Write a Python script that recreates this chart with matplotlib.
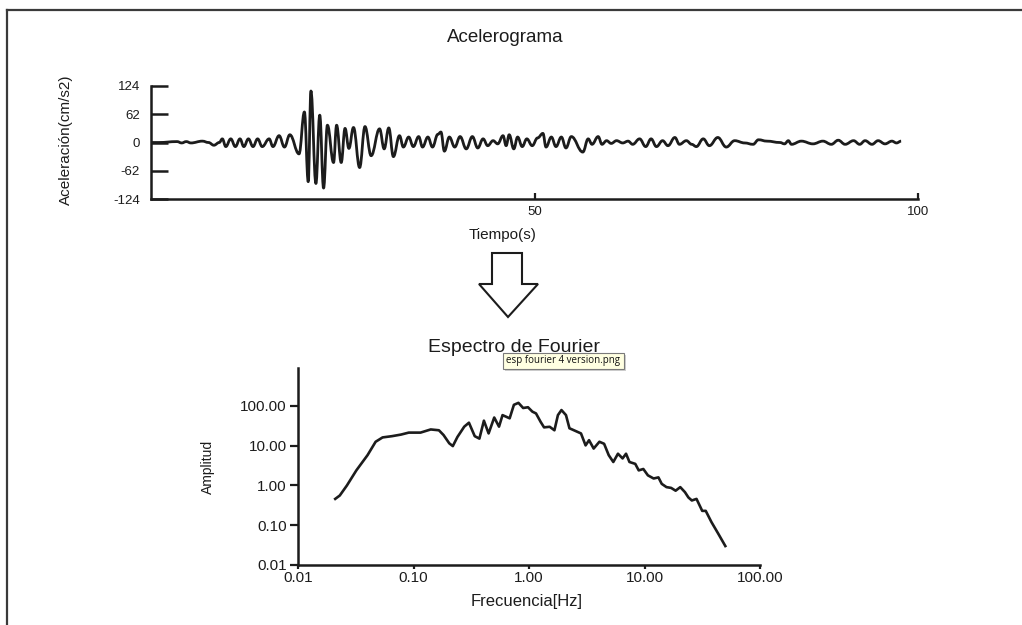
import matplotlib
matplotlib.use("Agg")
import matplotlib.pyplot as plt
from matplotlib.lines import Line2D
from matplotlib.patches import Polygon, Rectangle, PathPatch
from matplotlib.path import Path
from matplotlib.ticker import NullLocator, FixedLocator, FixedFormatter

plt.rcParams['font.family'] = ['Liberation Sans', 'DejaVu Sans']

# acelerograma: extremos (s, cm/s2)
acc_t = [0.0, 1.0, 3.4, 4.0, 4.6, 5.2, 6.7, 7.5, 8.2, 8.9, 9.3, 9.75, 10.4, 11.0,
         11.6, 12.1, 12.7, 13.3, 13.9, 14.5, 15.4, 15.9, 16.7, 17.4, 18.1, 19.3,
         20.0, 20.5, 20.85, 21.5, 22.0, 22.5, 23.0, 23.8, 24.2, 24.8, 25.3, 25.8,
         26.4, 27.2, 27.9, 28.7, 29.8, 30.4, 31.0, 31.6, 32.4, 32.9, 33.6, 34.2,
         34.9, 35.4, 36.1, 36.7, 37.4, 37.8, 38.25, 38.9, 39.6, 40.3, 41.1, 41.9,
         42.6, 43.3, 43.9, 44.6, 45.2, 45.9, 46.3, 46.7, 47.3, 47.8, 48.4, 49.0,
         49.7, 50.4, 51.1, 51.5, 52.2, 52.8, 53.5, 54.1, 54.8, 56.3, 57.0, 57.5,
         58.3, 58.8, 59.4, 60.0, 60.7, 61.5, 62.2, 62.8, 63.7, 64.5, 65.2, 65.9,
         66.7, 67.4, 68.3, 68.9, 69.8, 70.5, 71.1, 72.0, 72.8, 73.9, 75.0, 76.1,
         77.4, 78.5, 79.2, 80.3, 82.0, 82.6, 83.1, 83.5, 84.8, 86.3, 87.6, 88.7,
         89.6, 90.5, 91.6, 92.4, 93.1, 94.0, 94.8, 95.7, 96.6, 97.2, 97.8]
acc_a = [0, 0, 2, -1, 2, -1, 3, 0, -6, 0, 8, -9, 8, -9,
         8, -9, 8, -9, 8, -9, 8, -9, 15, -10, 17, -25,
         67, -86, 113, -90, 60, -100, 38, -44, 38, -44, 31, -13,
         33, -55, 35, -29, 30, -14, 32, -31, 15, -10, 12, -9,
         13, -10, 12, -10, 18, 23, -19, 12, -10, 13, -14, 13,
         -12, 8, -7, 4, -3, 15, -7, 17, -14, 12, -9, 8,
         -7, 10, 20, -10, 12, -9, 12, -12, 13, -21, 8, -4,
         13, -4, 4, -2, 4, -1, 3, -4, 8, -9, 8, -9,
         4, -7, 11, -4, 4, -4, -9, 8, -7, 11, -10, 4,
         -1, -4, 6, 3, 0, -3, 4, -4, 3, -3, 3, -4,
         5, -4, 4, -4, 4, -4, 4, -3, 3, -1, 3]

# espectro de Fourier (Hz, amplitud)
freq = [0.021, 0.023, 0.0265, 0.032, 0.040, 0.047, 0.054, 0.065, 0.078, 0.091,
        0.115, 0.141, 0.166, 0.182, 0.204, 0.219, 0.240, 0.275, 0.302, 0.339,
        0.372, 0.407, 0.447, 0.50, 0.55, 0.59, 0.68, 0.74, 0.81, 0.89, 0.98,
        1.07, 1.15, 1.26, 1.35, 1.51, 1.66, 1.78, 1.91, 2.09, 2.24, 2.45, 2.82,
        3.09, 3.31, 3.63, 4.07, 4.47, 4.90, 5.37, 5.89, 6.46, 6.92, 7.41, 8.32,
        8.91, 9.77, 10.7, 12.0, 13.2, 14.1, 15.5, 17.0, 18.6, 20.4, 22.4, 24.0,
        25.7, 28.2, 31.6, 33.9, 38.0, 43.7, 50.1]
amp = [0.46, 0.56, 1.0, 2.4, 5.8, 12.6, 16.2, 17.4, 19.1, 21.4,
       21.4, 25.7, 24.5, 18.6, 11.5, 9.8, 16.6, 30.2, 38.0, 17.4,
       15.1, 42.7, 20.4, 51.3, 30.2, 58.9, 49.0, 107, 120, 89, 93,
       72, 65, 40, 29, 30, 24.5, 59, 79, 59, 27.5, 24.5, 20.4,
       10.2, 13.8, 8.5, 12.6, 11.2, 5.8, 3.9, 6.3, 4.8, 6.3, 3.9, 3.5,
       2.4, 2.6, 1.8, 1.5, 1.6, 1.1, 0.91, 0.87, 0.74, 0.91, 0.68, 0.50,
       0.42, 0.46, 0.23, 0.23, 0.12, 0.06, 0.03]

acc_ticks = [-124, -62, 0, 62, 124]
t_ticks = [50, 100]
log_ticks = [0.01, 0.1, 1, 10, 100]
log_labels = ['0.01', '0.10', '1.00', '10.00', '100.00']

W, H = 1022, 625
ink = '#1c1c1c'
fig = plt.figure(figsize=(W / 100, H / 100), dpi=100)


def fx(px):
    return px / W


def fy(py):
    return 1 - py / H


def wave_path(ts, vs):
    # curva suave que pasa por los extremos (tangente horizontal en cada uno)
    verts = [(ts[0], vs[0])]
    codes = [Path.MOVETO]
    for i in range(1, len(ts)):
        d = (ts[i] - ts[i - 1]) * 0.4
        verts += [(ts[i - 1] + d, vs[i - 1]), (ts[i] - d, vs[i]), (ts[i], vs[i])]
        codes += [Path.CURVE4] * 3
    return Path(verts, codes)


# --- acelerograma ---
ax1 = fig.add_axes([fx(151), fy(199), 767 / W, 113 / H])
ax1.add_patch(PathPatch(wave_path(acc_t, acc_a), facecolor='none', edgecolor=ink,
                        lw=2.0, joinstyle='round'))
ax1.set_xlim(0, 100)
ax1.set_ylim(-124, 124)
for s in ['top', 'right']:
    ax1.spines[s].set_visible(False)
for s in ['left', 'bottom']:
    ax1.spines[s].set_linewidth(1.8)
    ax1.spines[s].set_color(ink)
ax1.set_yticks(acc_ticks)
ax1.set_yticklabels([str(v) for v in acc_ticks])
ax1.set_xticks(t_ticks)
ax1.tick_params(axis='y', direction='in', length=12, width=1.8, pad=8,
                labelsize=9.5, colors=ink)
ax1.tick_params(axis='x', direction='in', length=4, width=1.6, pad=5,
                labelsize=9.5, colors=ink)
ax1.set_xlabel('Tiempo(s)', fontsize=11, color=ink)
ax1.xaxis.set_label_coords((503 - 151) / 767, (199 - 228) / 113)
ax1.set_ylabel('Aceleración(cm/s2)', fontsize=11, color=ink)
ax1.yaxis.set_label_coords((73 - 151) / 767, (199 - 140) / 113)
fig.text(fx(505), fy(37), 'Acelerograma', ha='center', va='center',
         fontsize=13.5, color=ink)

# --- flecha ---
arrow = Polygon([(fx(492), fy(253)), (fx(522), fy(253)), (fx(522), fy(284)),
                 (fx(538), fy(284)), (fx(508), fy(317)), (fx(479), fy(284)),
                 (fx(492), fy(284))], closed=True, facecolor='white',
                edgecolor=ink, lw=1.5, transform=fig.transFigure)
fig.add_artist(arrow)

# --- espectro de Fourier ---
ax2 = fig.add_axes([fx(298), fy(565), 462 / W, 197 / H])
ax2.plot(freq, amp, color=ink, lw=1.9)
ax2.set_xscale('log')
ax2.set_yscale('log')
ax2.set_xlim(0.01, 100)
ax2.set_ylim(0.01, 903)
for s in ['top', 'right']:
    ax2.spines[s].set_visible(False)
for s in ['left', 'bottom']:
    ax2.spines[s].set_linewidth(1.8)
    ax2.spines[s].set_color(ink)
for axis in [ax2.xaxis, ax2.yaxis]:
    axis.set_major_locator(FixedLocator(log_ticks))
    axis.set_major_formatter(FixedFormatter(log_labels))
    axis.set_minor_locator(NullLocator())
ax2.tick_params(axis='y', direction='out', length=6, width=1.6, pad=2,
                labelsize=11, colors=ink)
ax2.tick_params(axis='x', direction='out', length=3, width=1.6, pad=1,
                labelsize=11, colors=ink)
ax2.set_xlabel('Frecuencia[Hz]', fontsize=12, color=ink)
ax2.xaxis.set_label_coords((527 - 298) / 462, (565 - 594) / 197)
ax2.set_ylabel('Amplitud', fontsize=10, color=ink)
ax2.yaxis.set_label_coords((215 - 298) / 462, (565 - 467) / 197)
fig.text(fx(514), fy(347), 'Espectro de Fourier', ha='center', va='center',
         fontsize=14, color=ink)

# tooltip
fig.add_artist(Rectangle((fx(505), fy(371)), 121 / W, 16 / H, facecolor='#cfcfcf',
                         edgecolor='none', transform=fig.transFigure))
fig.add_artist(Rectangle((fx(503), fy(369)), 121 / W, 16 / H, facecolor='#ffffe1',
                         edgecolor='#7a7a7a', lw=0.8, transform=fig.transFigure))
fig.text(fx(563.5), fy(361), 'esp fourier 4 version.png', ha='center', va='center',
         fontsize=7, family=['Open Sans', 'DejaVu Sans'], color='#111111')

# marco
fig.add_artist(Line2D([fx(7), fx(7)], [0, fy(10)], color='#3a3a3a', lw=1.6,
                      transform=fig.transFigure))
fig.add_artist(Line2D([fx(7), 1], [fy(10), fy(10)], color='#3a3a3a', lw=1.6,
                      transform=fig.transFigure))

fig.savefig('out.png', dpi=100, facecolor='white')
